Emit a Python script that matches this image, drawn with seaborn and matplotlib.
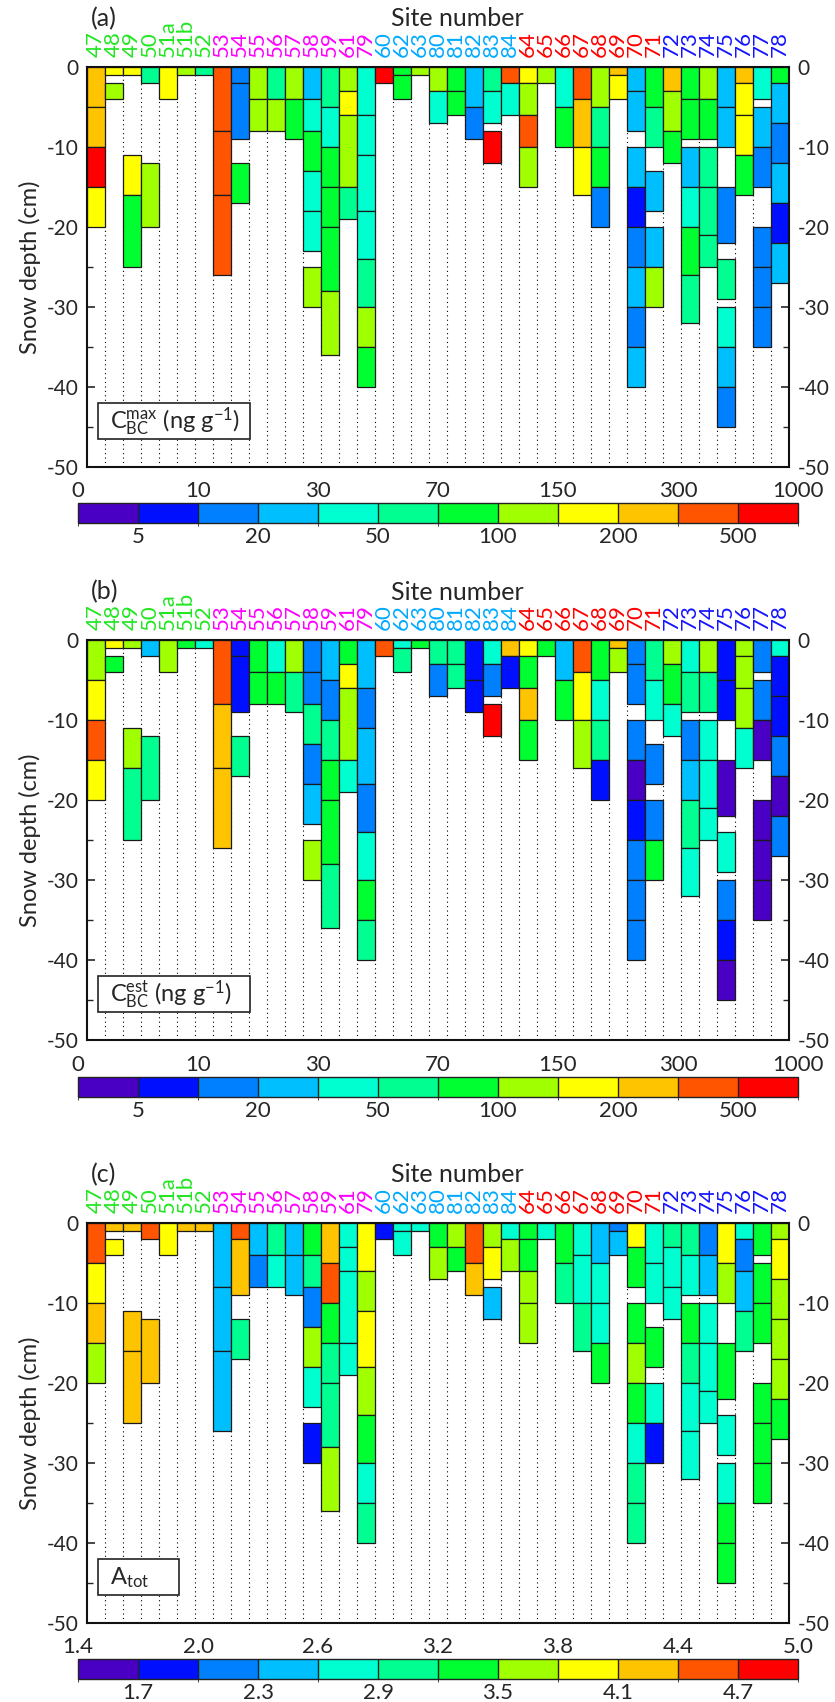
import matplotlib
matplotlib.use("Agg")
import matplotlib.pyplot as plt
import matplotlib.transforms as mtransforms
import seaborn as sns
from matplotlib import font_manager
from matplotlib.colors import ListedColormap, BoundaryNorm
from matplotlib.cm import ScalarMappable
from matplotlib.patches import Rectangle

# sites, in plotting order, and the colour group of their labels
sites = ["47", "48", "49", "50", "51a", "51b", "52",
         "53", "54", "55", "56", "57", "58", "59", "61", "79",
         "60", "62", "63", "80", "81", "82", "83", "84",
         "64", "65", "66", "67", "68", "69", "70", "71",
         "72", "73", "74", "75", "76", "77", "78"]
site_group = ["g"] * 7 + ["m"] * 9 + ["c"] * 8 + ["r"] * 8 + ["b"] * 7
group_color = {"g": "#22e622", "m": "#ff00ff", "c": "#00aaff", "r": "#ff0000", "b": "#1414ff"}

# snow layers (top, bottom) in cm for each site
layers = [
    [(0, 5), (5, 10), (10, 15), (15, 20)],                                          # 47
    [(0, 1), (2, 4)],                                                               # 48
    [(0, 1), (11, 16), (16, 25)],                                                   # 49
    [(0, 2), (12, 20)],                                                             # 50
    [(0, 4)],                                                                       # 51a
    [(0, 1)],                                                                       # 51b
    [(0, 1)],                                                                       # 52
    [(0, 8), (8, 16), (16, 26)],                                                    # 53
    [(0, 2), (2, 9), (12, 17)],                                                     # 54
    [(0, 4), (4, 8)],                                                               # 55
    [(0, 4), (4, 8)],                                                               # 56
    [(0, 4), (4, 9)],                                                               # 57
    [(0, 4), (4, 8), (8, 13), (13, 18), (18, 23), (25, 30)],                        # 58
    [(0, 5), (5, 10), (10, 15), (15, 20), (20, 28), (28, 36)],                      # 59
    [(0, 3), (3, 6), (6, 15), (15, 19)],                                            # 61
    [(0, 6), (6, 11), (11, 18), (18, 24), (24, 30), (30, 35), (35, 40)],            # 79
    [(0, 2)],                                                                       # 60
    [(0, 1), (1, 4)],                                                               # 62
    [(0, 1)],                                                                       # 63
    [(0, 3), (3, 7)],                                                               # 80
    [(0, 3), (3, 6)],                                                               # 81
    [(0, 5), (5, 9)],                                                               # 82
    [(0, 3), (3, 7), (8, 12)],                                                      # 83
    [(0, 2), (2, 6)],                                                               # 84
    [(0, 2), (2, 6), (6, 10), (10, 15)],                                            # 64
    [(0, 2)],                                                                       # 65
    [(0, 5), (5, 10)],                                                              # 66
    [(0, 4), (4, 10), (10, 16)],                                                    # 67
    [(0, 5), (5, 10), (10, 15), (15, 20)],                                          # 68
    [(0, 1), (1, 4)],                                                               # 69
    [(0, 3), (3, 8), (10, 15), (15, 20), (20, 25), (25, 30), (30, 35), (35, 40)],   # 70
    [(0, 5), (5, 10), (13, 18), (20, 25), (25, 30)],                                # 71
    [(0, 3), (3, 8), (8, 12)],                                                      # 72
    [(0, 4), (4, 9), (10, 15), (15, 20), (20, 26), (26, 32)],                       # 73
    [(0, 4), (4, 9), (10, 15), (15, 21), (21, 25)],                                 # 74
    [(0, 5), (5, 10), (15, 22), (24, 29), (30, 35), (35, 40), (40, 45)],            # 75
    [(0, 2), (2, 6), (6, 11), (11, 16)],                                            # 76
    [(0, 4), (5, 10), (10, 15), (20, 25), (25, 30), (30, 35)],                      # 77
    [(0, 2), (2, 7), (7, 12), (12, 17), (17, 22), (22, 27)],                        # 78
]

# (a) maximum BC mixing ratio, ng/g (values estimated within colour classes)
cmax = [
    [250, 250, 700, 170], [170, 120], [170, 170, 85], [60, 120], [170], [120], [60],
    [400, 400, 400], [15, 15, 85], [120, 120], [60, 120], [120, 85],
    [25, 40, 85, 40, 40, 120], [60, 40, 85, 85, 85, 120], [120, 170, 120, 60],
    [40, 40, 40, 40, 60, 120, 85],
    [700], [85, 85], [120], [120, 40], [85, 85], [25, 15], [60, 40, 700], [400, 40],
    [170, 120, 400, 120], [120], [40, 85], [400, 250, 170], [120, 60, 85, 15], [250, 170],
    [25, 25, 25, 7, 15, 25, 15, 25], [85, 60, 25, 25, 120],
    [250, 120, 85], [85, 85, 25, 40, 85, 60], [120, 85, 60, 60, 60],
    [25, 25, 15, 60, 40, 25, 15], [250, 170, 170, 85], [40, 25, 15, 15, 15, 15],
    [85, 25, 15, 25, 7, 25],
]

# (b) estimated BC mixing ratio, ng/g
cest = [
    [120, 170, 400, 170], [170, 85], [120, 120, 60], [25, 60], [120], [85], [40],
    [400, 250, 250], [7, 7, 60], [85, 85], [40, 85], [120, 60],
    [15, 15, 60, 15, 25, 120], [25, 15, 60, 85, 85, 60], [85, 170, 120, 40],
    [25, 15, 25, 15, 40, 85, 60],
    [400], [40, 60], [85], [60, 15], [60, 60], [7, 7], [40, 15, 700], [250, 7],
    [170, 85, 250, 85], [85], [25, 85], [400, 170, 120], [85, 40, 60, 7], [250, 120],
    [15, 15, 15, 3, 7, 15, 15, 15], [60, 40, 15, 15, 85],
    [120, 85, 40], [40, 60, 15, 25, 60, 40], [120, 60, 40, 40, 40],
    [7, 7, 3, 40, 15, 7, 3], [120, 120, 120, 40], [15, 15, 3, 3, 3, 3],
    [40, 7, 7, 15, 3, 15],
]

# (c) Angstrom exponent of total absorption
atot = [
    [4.55, 3.95, 4.25, 3.65], [4.25, 3.95], [4.25, 4.25, 4.25], [4.55, 4.25], [3.95], [4.25], [4.25],
    [2.45, 2.45, 2.45], [4.55, 4.25, 3.05], [2.45, 2.15], [3.05, 2.75], [2.45, 2.45],
    [3.35, 3.05, 2.15, 3.65, 2.75, 1.85], [4.25, 4.55, 3.35, 3.05, 3.05, 3.65], [2.75, 2.75, 2.75, 2.75],
    [3.95, 3.65, 3.95, 3.65, 3.35, 2.75, 3.05],
    [1.85], [2.75, 2.75], [2.75], [3.35, 3.65], [3.65, 3.35], [4.55, 4.25], [3.65, 3.95, 2.45], [2.75, 3.65],
    [3.35, 3.35, 3.65, 3.65], [2.75], [3.35, 3.05], [2.75, 2.75, 3.05], [2.45, 2.75, 2.75, 3.35], [2.15, 2.45],
    [3.95, 3.35, 3.35, 3.65, 3.35, 2.75, 3.05, 3.05], [2.75, 2.75, 3.35, 2.75, 1.85],
    [3.05, 2.75, 2.75], [3.05, 2.75, 3.35, 3.05, 2.75, 2.75], [2.15, 2.45, 2.75, 2.75, 2.75],
    [3.95, 3.65, 3.35, 2.75, 2.75, 3.35, 3.35], [2.75, 2.15, 2.45, 3.05], [3.35, 3.35, 3.35, 3.35, 3.35, 3.35],
    [3.65, 3.95, 3.65, 3.65, 3.65, 3.35],
]

bc_bounds = [0, 5, 10, 20, 30, 50, 70, 100, 150, 200, 300, 500, 1000]
a_bounds = [1.4, 1.7, 2.0, 2.3, 2.6, 2.9, 3.2, 3.5, 3.8, 4.1, 4.4, 4.7, 5.0]
class_colors = ["#4a00c4", "#0010ff", "#0080ff", "#00bfff", "#00ffd0", "#00ff90",
                "#00ff30", "#a0ff00", "#ffff00", "#ffc400", "#ff5500", "#ff0000"]

sns.set_style("ticks")
installed = {f.name for f in font_manager.fontManager.ttflist}
main_font = "Lato" if "Lato" in installed else "DejaVu Sans"
narrow_font = "Liberation Sans Narrow" if "Liberation Sans Narrow" in installed else main_font
plt.rcParams["font.family"] = [main_font, "DejaVu Sans"]
plt.rcParams["mathtext.fontset"] = "custom"
plt.rcParams["mathtext.rm"] = main_font
plt.rcParams["mathtext.it"] = main_font
plt.rcParams["axes.unicode_minus"] = False

cmap = ListedColormap(sns.color_palette(class_colors))

W, H = 835, 1702
fig = plt.figure(figsize=(W / 100, H / 100), dpi=100)


def fig_rect(x0, y0, x1, y1):
    return [x0 / W, 1 - y1 / H, (x1 - x0) / W, (y1 - y0) / H]


panels = [
    ("(a)", cmax, bc_bounds, r"C$_{\mathrm{BC}}^{\mathrm{max}}$ (ng g$^{\mathrm{-1}}$)", 67, 503, 9.05),
    ("(b)", cest, bc_bounds, r"C$_{\mathrm{BC}}^{\mathrm{est}}$ (ng g$^{\mathrm{-1}}$)", 640, 1077, 9.05),
    ("(c)", atot, a_bounds, r"A$_{\mathrm{tot}}$", 1223, 1659, 5.1),
]

for tag, values, bounds, box_label, top, cb_top, box_right in panels:
    norm = BoundaryNorm(bounds, cmap.N)
    ax = fig.add_axes(fig_rect(87, top, 789, top + 400))

    # dotted column separators
    ax.vlines(range(1, len(sites)), -50, 0, colors="black", linestyles=(0, (1, 3)),
              linewidth=0.8, zorder=1)

    xs, hs, bs, cs = [], [], [], []
    for i, (lay, vals) in enumerate(zip(layers, values)):
        for (t, b), v in zip(lay, vals):
            xs.append(i + 0.5)
            bs.append(-t)
            hs.append(-(b - t))
            cs.append(cmap(norm(v)))
    ax.bar(xs, hs, bottom=bs, width=1.0, color=cs, edgecolor="#1a1a1a",
           linewidth=0.9, zorder=2)

    ax.set_xlim(0, len(sites))
    ax.set_ylim(-50, 0)
    ax.set_xticks([])
    ax.set_yticks(range(-50, 1, 10))
    ax.set_yticks(range(-45, 0, 10), minor=True)
    ax.tick_params(axis="y", which="both", direction="in", left=True, right=True,
                   labelleft=True, labelright=True, labelsize=15, pad=6)
    ax.tick_params(axis="y", which="major", length=6, width=1.2)
    ax.tick_params(axis="y", which="minor", length=4, width=1.0)
    for sp in ax.spines.values():
        sp.set_linewidth(1.5)
        sp.set_color("#111111")
    ax.set_ylabel("Snow depth (cm)", fontsize=17, labelpad=4)

    # site labels above the panel
    for i, (s, g) in enumerate(zip(sites, site_group)):
        ax.annotate(s, xy=(i + 0.5, 1), xycoords=("data", "axes fraction"),
                    xytext=(0, 7), textcoords="offset points", rotation=90,
                    ha="center", va="bottom", color=group_color[g], fontsize=16,
                    family=[narrow_font, "DejaVu Sans"])
    fig.text(91 / W, 1 - (top - 48) / H, tag, fontsize=18, va="center", ha="left")
    fig.text(457 / W, 1 - (top - 48) / H, "Site number", fontsize=18, va="center", ha="center")

    # label box in lower left
    ax.add_patch(Rectangle((0.6, -46.5), box_right - 0.6, 4.5, facecolor="white",
                           edgecolor="#222222", linewidth=1.2, zorder=3))
    ax.text(1.3, -44.3, box_label, fontsize=17, va="center", ha="left", zorder=4)

    # colour bar
    cax = fig.add_axes(fig_rect(78, cb_top, 798, cb_top + 20))
    sm = ScalarMappable(norm=norm, cmap=cmap)
    cb = fig.colorbar(sm, cax=cax, orientation="horizontal", spacing="uniform",
                      drawedges=True)
    cb.outline.set_linewidth(1.0)
    cb.outline.set_edgecolor("#222222")
    cb.dividers.set_color("#222222")
    cb.dividers.set_linewidth(1.0)
    fmt = "{:g}" if bounds is bc_bounds else "{:.1f}"
    cb.set_ticks(bounds[1::2])
    cb.set_ticklabels([fmt.format(b) for b in bounds[1::2]])
    cax.tick_params(axis="x", length=0, labelsize=16, pad=3)
    trans = mtransforms.blended_transform_factory(cax.transData, cax.transAxes)
    for b in bounds[::2]:
        cax.text(b, 1.12, fmt.format(b), transform=trans, ha="center", va="bottom",
                 fontsize=16)

fig.savefig("out.png", dpi=100)
